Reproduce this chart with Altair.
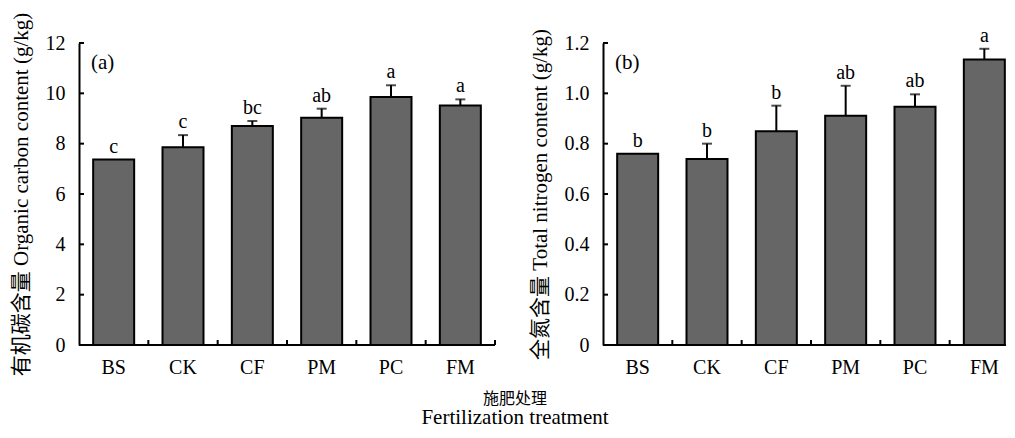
import altair as alt
import pandas as pd

categories = ["BS", "CK", "CF", "PM", "PC", "FM"]

soc_values = [7.37, 7.86, 8.70, 9.03, 9.85, 9.52]
soc_errors = [0.0, 0.48, 0.20, 0.36, 0.47, 0.24]
soc_letters = ["c", "c", "bc", "ab", "a", "a"]
soc_ticks = [0, 2, 4, 6, 8, 10, 12]

tn_values = [0.760, 0.739, 0.849, 0.911, 0.947, 1.134]
tn_errors = [0.0, 0.061, 0.102, 0.119, 0.049, 0.043]
tn_letters = ["b", "b", "b", "ab", "ab", "a"]
tn_ticks = [0, 0.2, 0.4, 0.6, 0.8, 1.0, 1.2]

FONT = "Liberation Serif, Noto Sans CJK SC"
STEP_W = 416   # full band range of each panel
H = 302


def panel(values, errors, letters, ticks, domain, ytitle, tag, label_expr, width):
    df = pd.DataFrame({"cat": categories, "value": values, "err": errors, "letter": letters})
    df["top"] = df["value"] + df["err"]
    tick_df = pd.DataFrame({"v": ticks})
    tag_df = pd.DataFrame({"t": [tag]})

    xscale = alt.Scale(paddingInner=0, paddingOuter=0, range=[0, STEP_W])
    xenc = alt.X("cat:N", sort=categories, scale=xscale,
                 axis=alt.Axis(title=None, labelAngle=0, labelPadding=12, ticks=False,
                               domain=False))
    yscale = alt.Scale(domain=domain, nice=False, zero=True)
    yaxis = alt.Axis(title=ytitle, values=ticks, ticks=False, labelPadding=14,
                     titlePadding=14, labelExpr=label_expr)

    base = alt.Chart(df)
    bars = base.mark_bar(size=41, fill="#666666", stroke="black", strokeWidth=2).encode(
        x=xenc, y=alt.Y("value:Q", scale=yscale, axis=yaxis))
    err = base.transform_filter("datum.err > 0").mark_rule(color="black", strokeWidth=2).encode(
        x=alt.X("cat:N", sort=categories), y="value:Q", y2="top:Q")
    cap = base.transform_filter("datum.err > 0").mark_tick(
        orient="horizontal", size=10, thickness=2, color="black").encode(
        x=alt.X("cat:N", sort=categories), y="top:Q")
    txt = base.mark_text(baseline="alphabetic", dy=-7, fontSize=20, font=FONT, color="black").encode(
        x=alt.X("cat:N", sort=categories), y="top:Q", text="letter:N")
    yt = alt.Chart(tick_df).mark_rule(color="black", strokeWidth=2).encode(
        y="v:Q", x=alt.value(0), x2=alt.value(5))
    xt = base.mark_rule(color="black", strokeWidth=2).encode(
        x=alt.X("cat:N", sort=categories, bandPosition=1),
        y=alt.value(H - 5), y2=alt.value(H))
    xdom = alt.Chart(tag_df).mark_rule(color="black", strokeWidth=2).encode(
        x=alt.value(0), x2=alt.value(width), y=alt.value(H))
    lab = alt.Chart(tag_df).mark_text(align="left", baseline="middle", fontSize=21, font=FONT,
                                      color="black").encode(
        text="t:N", x=alt.value(12), y=alt.value(20))
    return alt.layer(bars, err, cap, txt, yt, xt, xdom, lab).properties(width=width, height=H)


left = panel(soc_values, soc_errors, soc_letters, soc_ticks, [0, 12],
             "有机碳含量 Organic carbon content (g/kg)", "(a)", "datum.label", 416)
right = panel(tn_values, tn_errors, tn_letters, tn_ticks, [0, 1.2],
              "全氮含量 Total nitrogen content (g/kg)", "(b)",
              "datum.value == 0 ? '0' : format(datum.value, '.1f')", 416)

chart = alt.hconcat(left, right, spacing=108, bounds="flush").properties(
    title=alt.TitleParams(text="施肥处理", orient="bottom", anchor="middle", fontSize=16,
                          font=FONT, fontWeight="normal", color="black", offset=14, dx=0,
                          subtitle="Fertilization treatment", subtitleFont=FONT,
                          subtitleFontSize=21, subtitleColor="black", subtitlePadding=0),
    padding={"left": 2, "top": 4, "right": -14, "bottom": 0},
).configure_axis(
    domainColor="black", domainWidth=2, labelFont=FONT, labelFontSize=20, labelColor="black",
    titleFont=FONT, titleFontSize=21, titleFontWeight="normal", titleColor="black", grid=False,
).configure_view(stroke=None)

chart.save("out.html", embed_options={"renderer": "svg", "actions": False})
